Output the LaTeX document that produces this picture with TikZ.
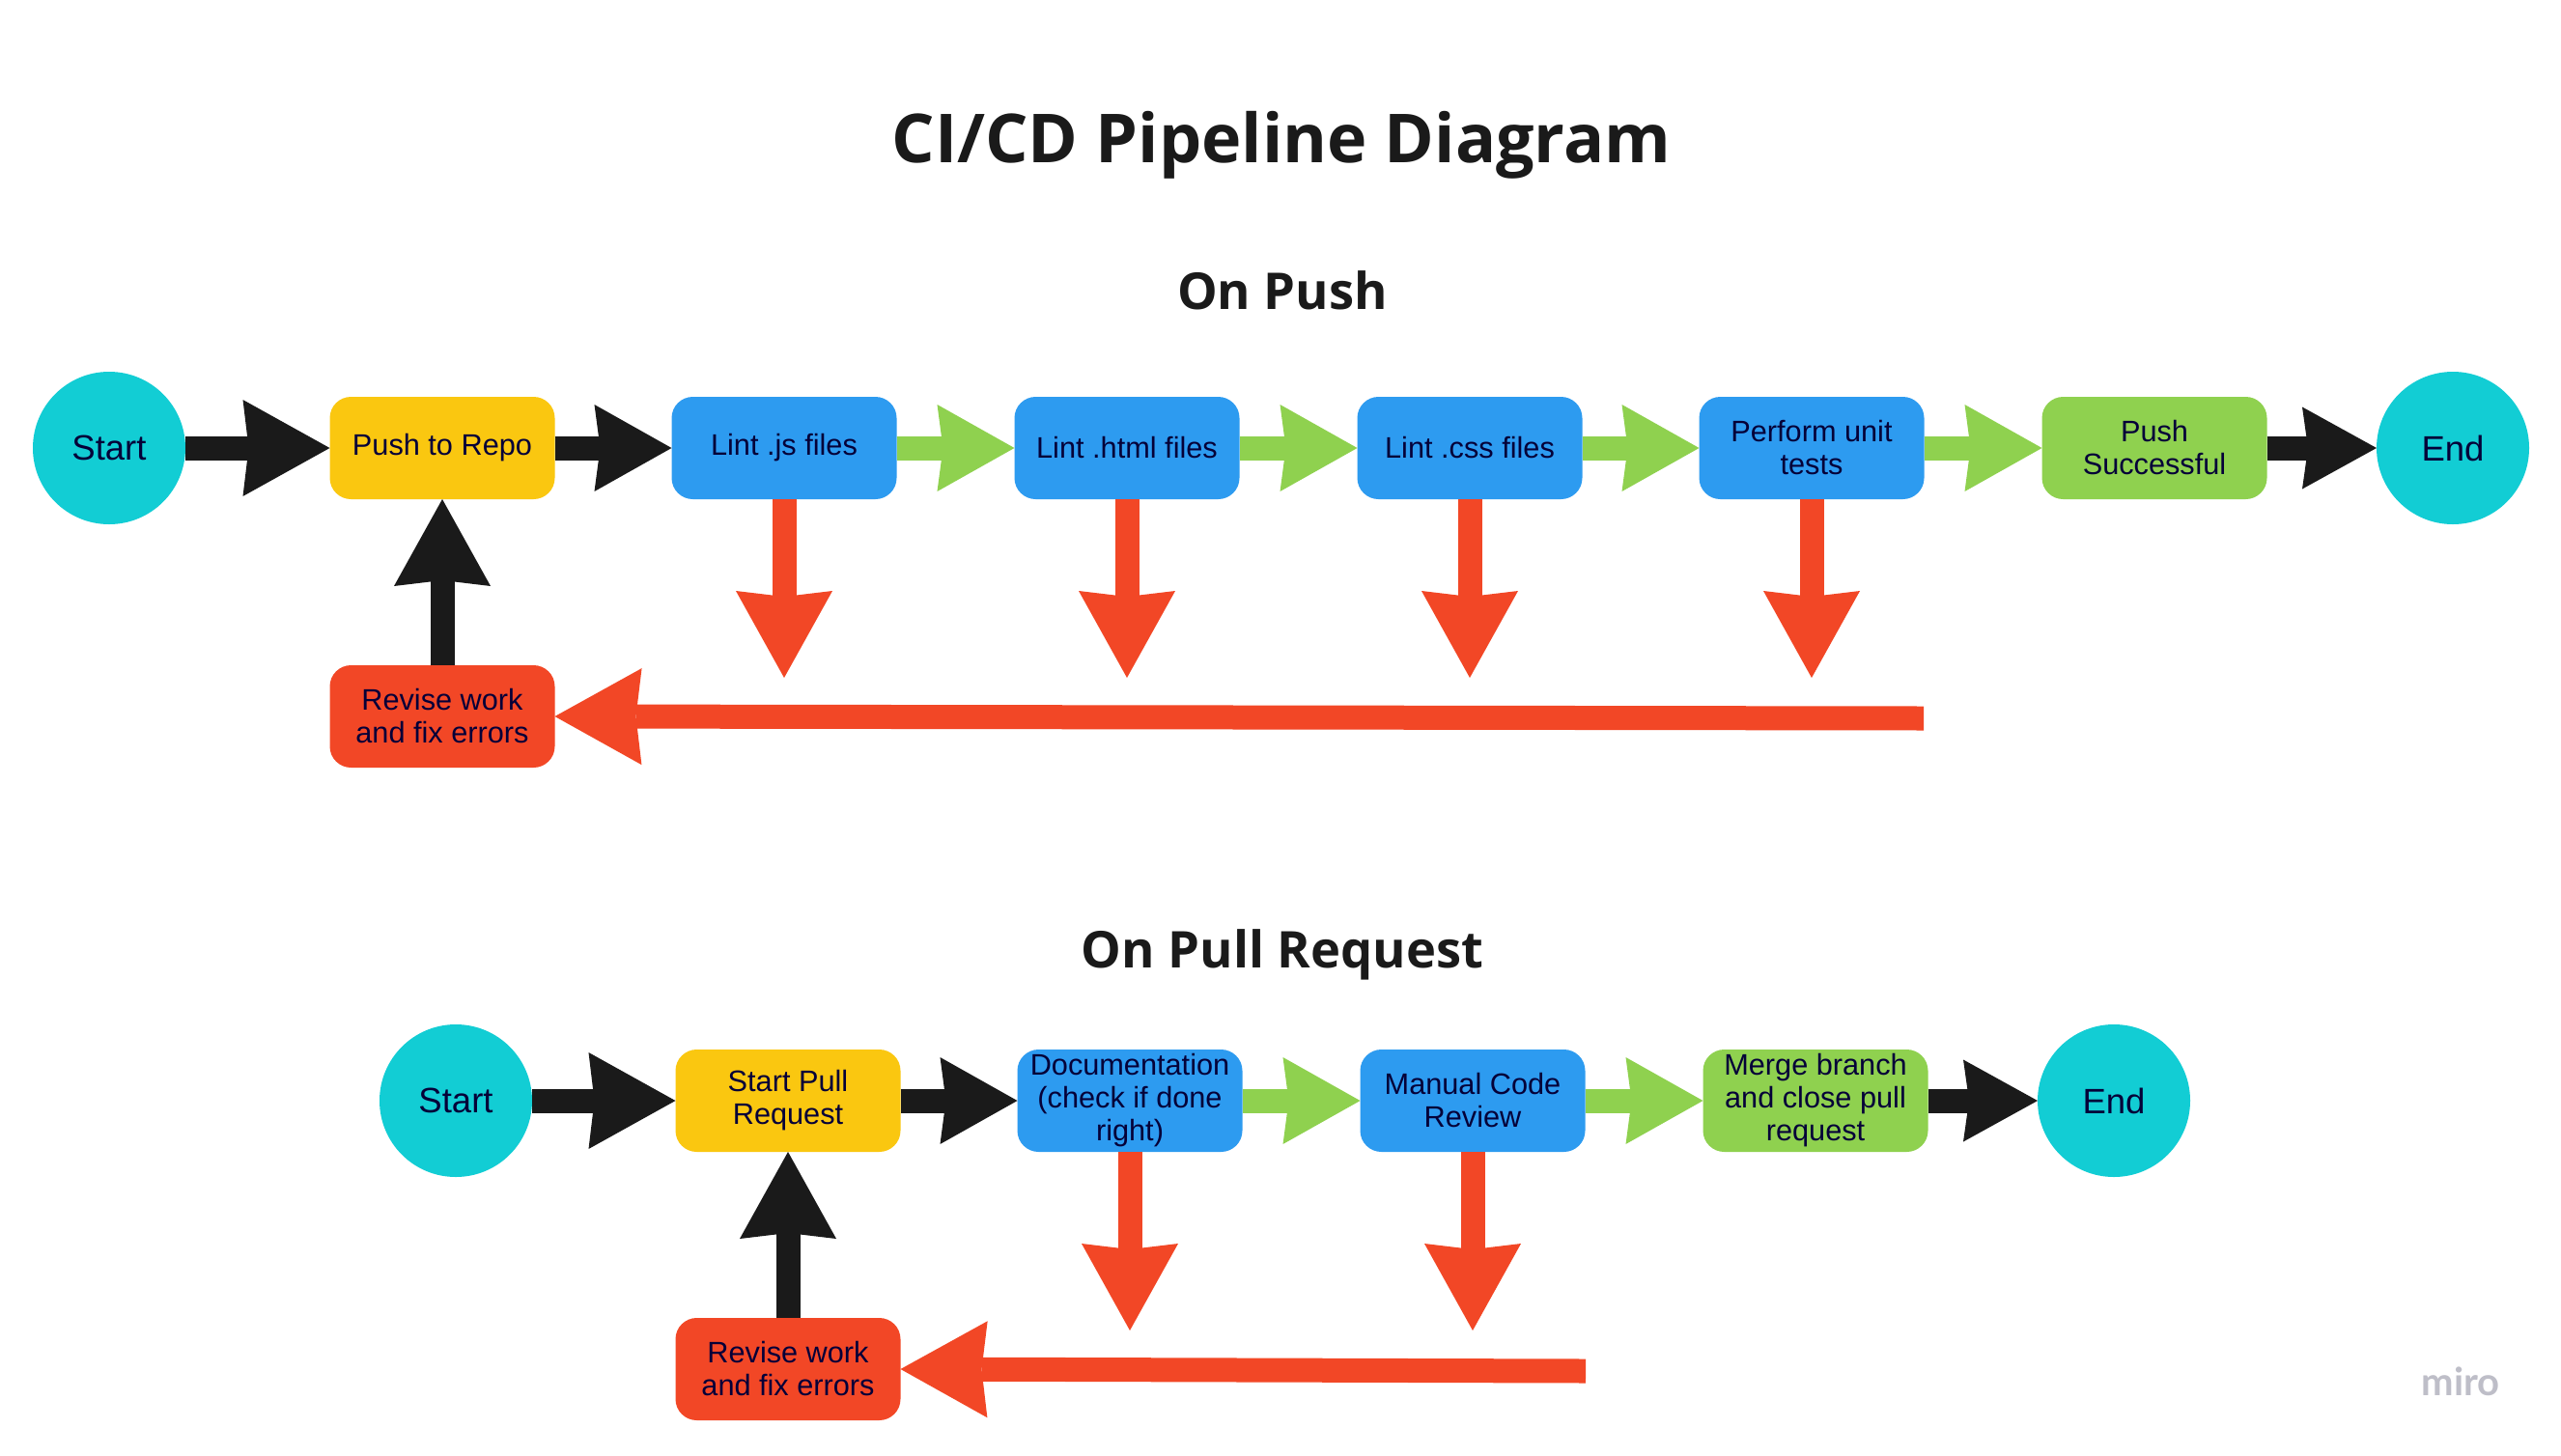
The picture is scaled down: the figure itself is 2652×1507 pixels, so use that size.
\documentclass[tikz,border=0pt]{standalone}
\usepackage{fontspec}
\setmainfont{Liberation Sans}
\newfontfamily\titlefont{Open Sans}
\newfontfamily\logofont{Lato}
\usetikzlibrary{arrows.meta,calc}
\definecolor{cCyan}{HTML}{12CDD4}
\definecolor{cYellow}{HTML}{FAC710}
\definecolor{cBlue}{HTML}{2D9BF0}
\definecolor{cGreen}{HTML}{8FD14F}
\definecolor{cRed}{HTML}{F24726}
\definecolor{cBlack}{HTML}{1A1A1A}
\definecolor{ink}{HTML}{050038}
\definecolor{cLogo}{HTML}{BEBEC8}
\begin{document}
\begin{tikzpicture}[x=1pt,y=-1pt,
  box/.style={rectangle, rounded corners=22pt, minimum width=233pt, minimum height=106pt,
    inner sep=0pt, outer sep=0pt, text=ink, align=center,
    font=\fontsize{30.7}{34}\selectfont},
  term/.style={circle, fill=cCyan, minimum size=158pt, inner sep=0pt, outer sep=0pt,
    text=ink, font=\fontsize{36.5}{40}\selectfont},
  conn/.style={line width=25pt},
  headA/.style={-{Stealth[length=90pt,width=100pt,inset=6pt,line width=0pt]}},
  headB/.style={-{Stealth[length=80pt,width=90pt,inset=6pt,line width=0pt]}},
  headC/.style={-{Stealth[length=77pt,width=85pt,inset=6pt,line width=0pt]}},
  heading/.style={text=cBlack, anchor=base},
]
\useasboundingbox (0,0) rectangle (2652,1507);
\fill[white] (0,0) rectangle (2652,1507);

% titles
\node[heading, font=\titlefont\bfseries\fontsize{70}{78}\selectfont] (title) at (1327,168) {CI/CD Pipeline Diagram};
\node[heading, font=\titlefont\bfseries\fontsize{52.5}{60}\selectfont] (hpush) at (1328,320) {On Push};
\node[heading, font=\titlefont\bfseries\fontsize{52.5}{60}\selectfont] (hpr) at (1328,1002) {On Pull Request};
\node[anchor=base, text=cLogo, font=\logofont\bfseries\fontsize{40}{45}\selectfont] (logo) at (2548,1445) {miro};

% top row
\node[term] (start1) at (113,464) {Start};
\node[box, fill=cYellow] (push) at (458,464) {Push to Repo};
\node[box, fill=cBlue] (ljs) at (812,464) {Lint .js files};
\node[box, fill=cBlue] (lhtml) at (1167,464) {Lint .html files};
\node[box, fill=cBlue] (lcss) at (1522,464) {Lint .css files};
\node[box, fill=cBlue] (put) at (1876,464) {Perform unit\\tests};
\node[box, fill=cGreen] (psucc) at (2231,464) {Push\\Successful};
\node[term] (end1) at (2540,464) {End};
\node[box, fill=cRed] (rev1) at (458,742) {Revise work\\and fix errors};
\coordinate (tipA) at (0,702);
\coordinate (fbA) at (1992,744);

\draw[conn, cBlack, headA] (start1.east) -- (push.west);
\draw[conn, cBlack, headB] (push.east) -- (ljs.west);
\draw[conn, cGreen, headB] (ljs.east) -- (lhtml.west);
\draw[conn, cGreen, headB] (lhtml.east) -- (lcss.west);
\draw[conn, cGreen, headB] (lcss.east) -- (put.west);
\draw[conn, cGreen, headB] (put.east) -- (psucc.west);
\draw[conn, cBlack, headC] (psucc.east) -- (end1.west);
\draw[conn, cRed, headA] (ljs.south) -- (ljs.south |- tipA);
\draw[conn, cRed, headA] (lhtml.south) -- (lhtml.south |- tipA);
\draw[conn, cRed, headA] (lcss.south) -- (lcss.south |- tipA);
\draw[conn, cRed, headA] (put.south) -- (put.south |- tipA);
\draw[conn, cRed, headA] (fbA) -- (rev1.east);
\draw[conn, cBlack, headA] (rev1.north) -- (push.south);

% bottom row
\node[term] (start2) at (472,1140) {Start};
\node[box, fill=cYellow] (spr) at (816,1140) {Start Pull\\Request};
\node[box, fill=cBlue] (doc) at (1170,1140) {Documentation\\(check if done\\right)};
\node[box, fill=cBlue] (mcr) at (1525,1140) {Manual Code\\Review};
\node[box, fill=cGreen] (merge) at (1880,1140) {Merge branch\\and close pull\\request};
\node[term] (end2) at (2189,1140) {End};
\node[box, fill=cRed] (rev2) at (816,1418) {Revise work\\and fix errors};
\coordinate (tipB) at (0,1378);
\coordinate (fbB) at (1642,1420);

\draw[conn, cBlack, headA] (start2.east) -- (spr.west);
\draw[conn, cBlack, headB] (spr.east) -- (doc.west);
\draw[conn, cGreen, headB] (doc.east) -- (mcr.west);
\draw[conn, cGreen, headB] (mcr.east) -- (merge.west);
\draw[conn, cBlack, headC] (merge.east) -- (end2.west);
\draw[conn, cRed, headA] (doc.south) -- (doc.south |- tipB);
\draw[conn, cRed, headA] (mcr.south) -- (mcr.south |- tipB);
\draw[conn, cRed, headA] (fbB) -- (rev2.east);
\draw[conn, cBlack, headA] (rev2.north) -- (spr.south);
\end{tikzpicture}
\end{document}
